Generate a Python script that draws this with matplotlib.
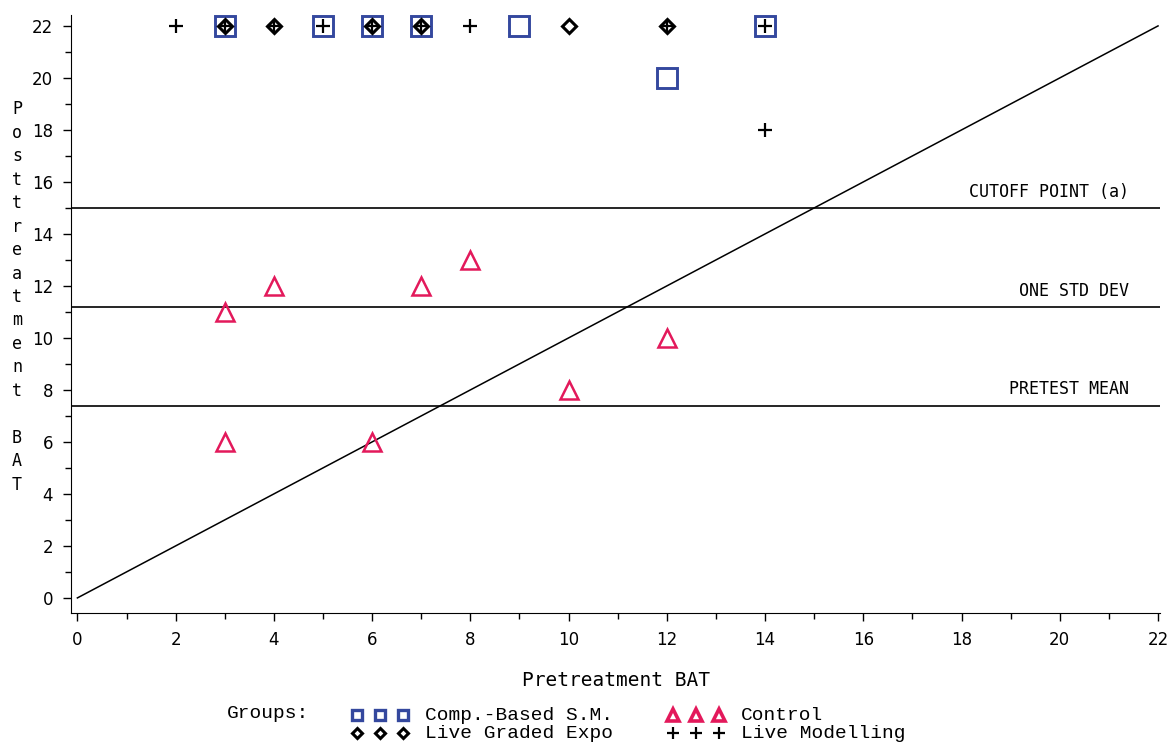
import matplotlib.pyplot as plt
from matplotlib.lines import Line2D
from matplotlib.ticker import MultipleLocator

# ── Data ──────────────────────────────────────────────────────────────────────
comp_x = [3, 5, 6, 7, 9, 14, 12]
comp_y = [22, 22, 22, 22, 22, 22, 20]

graded_x = [3, 4, 6, 7, 10, 12]
graded_y = [22, 22, 22, 22, 22, 22]

model_x = [2, 3, 4, 5, 6, 7, 8, 12, 14, 14]
model_y = [22, 22, 22, 22, 22, 22, 22, 22, 22, 18]

control_x = [3, 4, 7, 8, 3, 6, 12, 10]
control_y = [11, 12, 12, 13, 6, 6, 10, 8]

ref_names = ["CUTOFF POINT (a)", "ONE STD DEV", "PRETEST MEAN"]
ref_levels = [15.0, 11.2, 7.4]

diag = [0, 22]

blue = "#34489e"
red = "#e3195b"
mono = "DejaVu Sans Mono"

# ── Plot ──────────────────────────────────────────────────────────────────────
fig = plt.figure(figsize=(11.68, 7.42), dpi=100)
ax = fig.add_axes([71 / 1168, 1 - 613 / 742, (1160 - 71) / 1168, (613 - 15) / 742])

ax.plot(diag, diag, color="black", lw=1.1, zorder=1)
for name, lvl in zip(ref_names, ref_levels):
    ax.axhline(lvl, color="black", lw=1.2, zorder=1)
    ax.annotate(name, (21.4, lvl), xytext=(0, 8), textcoords="offset points",
                ha="right", va="baseline", fontsize=12, family=mono)

ax.plot(comp_x, comp_y, ls="none", marker="s", ms=15, mfc="white", mec=blue,
        mew=2.1, zorder=3)
ax.plot(control_x, control_y, ls="none", marker="^", ms=13, mfc="none", mec=red,
        mew=1.8, zorder=3)
ax.plot(graded_x, graded_y, ls="none", marker="D", ms=7, mfc="white", mec="black",
        mew=2.2, zorder=4)
ax.plot(model_x, model_y, ls="none", marker="+", ms=10, mec="black",
        mew=1.6, zorder=5)

# ── Axes ──────────────────────────────────────────────────────────────────────
ax.set_xlim(-0.13, 22.04)
ax.set_ylim(-0.58, 22.42)
ax.spines["top"].set_visible(False)
ax.spines["right"].set_visible(False)
ax.xaxis.set_major_locator(MultipleLocator(2))
ax.xaxis.set_minor_locator(MultipleLocator(1))
ax.yaxis.set_major_locator(MultipleLocator(2))
ax.yaxis.set_minor_locator(MultipleLocator(1))
ax.tick_params(which="major", length=6, width=1, labelsize=12, pad=7)
ax.tick_params(which="minor", length=4, width=1)

ax.set_xlabel("Pretreatment BAT", fontsize=14, family=mono, labelpad=16)
fig.text(17 / 1168, 1 - 297 / 742, "\n".join("Posttreatment BAT"),
         ha="center", va="center", fontsize=12, family=mono, linespacing=1.39)

# ── Legend (manual, two columns) ──────────────────────────────────────────────
W, H = 1168, 742
lfont = "Liberation Mono"
fig.text(227 / W, 1 - 714 / H, "Groups:", ha="left", va="center", fontsize=14,
         family=lfont)

legend_rows = [
    (357, 715, dict(marker="s", ms=7, mfc="white", mec=blue, mew=2.4), "Comp.-Based S.M."),
    (357, 733, dict(marker="D", ms=5, mfc="white", mec="black", mew=2.2), "Live Graded Expo"),
    (673, 715, dict(marker="^", ms=8, mfc="white", mec=red, mew=2.6), "Control"),
    (673, 733, dict(marker="+", ms=9, mec="black", mew=1.6), "Live Modelling"),
]
for x0, y0, style, label in legend_rows:
    xs = [(x0 + k * 23) / W for k in range(3)]
    fig.add_artist(Line2D(xs, [1 - y0 / H] * 3, ls="none", transform=fig.transFigure, **style))
    fig.text((x0 + 68) / W, 1 - y0 / H, label, ha="left", va="center", fontsize=14,
             family=lfont)

plt.savefig("out.png", dpi=100)
